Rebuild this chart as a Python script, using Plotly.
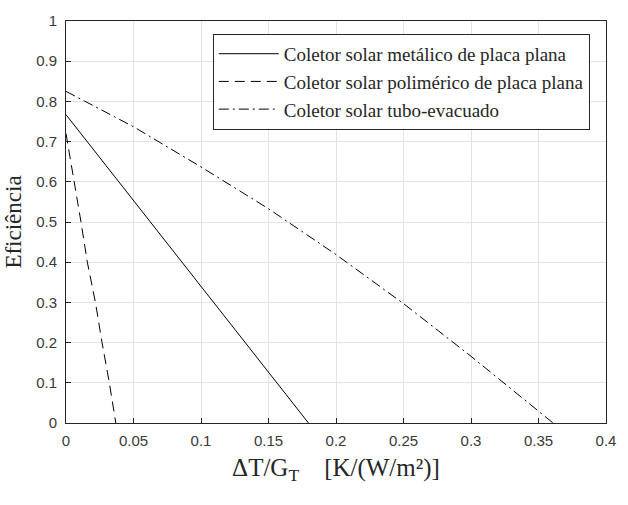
import plotly.graph_objects as go

# Data
x_metal = [0.0, 0.1564, 0.1796]
y_metal = [0.767, 0.099, 0.0]

x_poly = [0.0, 0.0062, 0.0111, 0.0158, 0.0218, 0.0267, 0.0321, 0.0369]
y_poly = [0.72, 0.60, 0.50, 0.40, 0.30, 0.20, 0.10, 0.0]

x_tubo = [0.0, 0.05, 0.10, 0.15, 0.20, 0.25, 0.30, 0.35, 0.3608]
y_tubo = [0.825, 0.737, 0.637, 0.533, 0.419, 0.297, 0.166, 0.030, 0.0]

names = ["Coletor solar metálico de placa plana",
         "Coletor solar polimérico de placa plana",
         "Coletor solar tubo-evacuado"]

x_ticks = [0, 0.05, 0.1, 0.15, 0.2, 0.25, 0.3, 0.35, 0.4]
x_tick_labels = ["0", "0.05", "0.1", "0.15", "0.2", "0.25", "0.3", "0.35", "0.4"]
y_ticks = [0, 0.1, 0.2, 0.3, 0.4, 0.5, 0.6, 0.7, 0.8, 0.9, 1]
y_tick_labels = ["0", "0.1", "0.2", "0.3", "0.4", "0.5", "0.6", "0.7", "0.8", "0.9", "1"]

fig = go.Figure()
fig.add_trace(go.Scatter(x=x_metal, y=y_metal, mode="lines", name=names[0],
                         line=dict(color="black", width=1, dash="solid")))
fig.add_trace(go.Scatter(x=x_poly, y=y_poly, mode="lines", name=names[1],
                         line=dict(color="black", width=1, dash="10px,6px")))
fig.add_trace(go.Scatter(x=x_tubo, y=y_tubo, mode="lines", name=names[2],
                         line=dict(color="black", width=1, dash="10px,4px,2px,4px")))

axis_common = dict(
    showline=True, linecolor="#262626", linewidth=1, mirror=True,
    showgrid=True, gridcolor="#e3e3e3", gridwidth=1,
    ticks="inside", ticklen=5, tickcolor="#262626", tickwidth=1,
    tickfont=dict(family="Liberation Sans, Arial", size=15, color="#3a3a3a"),
    zeroline=False,
)

nb = "\u00a0"
fig.update_layout(
    width=628, height=505,
    margin=dict(l=64, r=12, t=15, b=82),
    paper_bgcolor="white", plot_bgcolor="white",
    xaxis=dict(range=[0, 0.4], tickvals=x_ticks, ticktext=x_tick_labels,
               ticklabelstandoff=4,
               title=dict(text="ΔT/G<sub>T</sub>" + nb * 4 + "[K/(W/m²)]",
                          font=dict(family="Liberation Serif, Times New Roman", size=25, color="#262626"),
                          standoff=10),
               **axis_common),
    yaxis=dict(range=[0, 1], tickvals=y_ticks, ticktext=y_tick_labels,
               ticklabelstandoff=5,
               title=dict(text="Eficiência",
                          font=dict(family="Liberation Serif, Times New Roman", size=23, color="#262626"),
                          standoff=8),
               **axis_common),
    showlegend=True,
    legend=dict(x=0.97, y=0.968, xanchor="right", yanchor="top",
                bgcolor="white", bordercolor="#262626", borderwidth=1,
                font=dict(family="Liberation Serif, Times New Roman", size=19, color="#262626"),
                itemwidth=60, tracegroupgap=0),
)

fig.write_html("out.html")
